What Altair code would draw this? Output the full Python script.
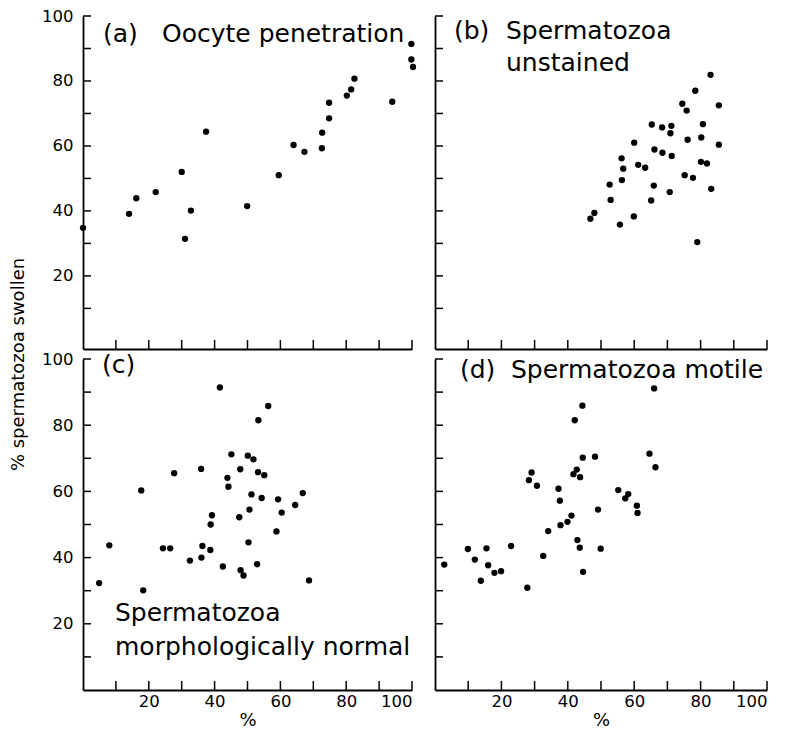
import altair as alt
import pandas as pd

# ---------------- data ----------------
a_x = [0, 14.0, 16.2, 22.1, 30.0, 31.0, 32.8, 37.4, 49.9, 59.5, 64.0, 67.3, 72.6, 72.7,
       74.8, 74.8, 80.2, 81.5, 82.5, 94.0, 99.8, 99.8, 100.3]
a_y = [34.8, 39.1, 43.9, 45.8, 52.0, 31.4, 40.1, 64.4, 41.5, 51.0, 60.3, 58.2, 59.3, 64.1,
       68.5, 73.3, 75.5, 77.4, 80.7, 73.6, 91.4, 86.6, 84.3]

b_x = [46.8, 48.0, 52.6, 52.9, 55.7, 56.3, 56.7, 56.2, 59.9, 60.0, 61.2, 63.3, 65.1, 65.9,
       66.1, 65.3, 68.4, 68.5, 70.7, 71.3, 70.9, 71.2, 74.5, 75.8, 75.2, 76.1, 77.7, 78.4,
       79.0, 80.2, 80.7, 80.1, 81.9, 83.2, 83.0, 85.5, 85.5]
b_y = [37.6, 39.4, 48.1, 43.4, 35.8, 49.5, 53.0, 56.2, 38.3, 61.0, 54.2, 53.3, 43.2, 47.8,
       58.9, 66.6, 65.7, 57.9, 45.8, 56.9, 63.9, 66.2, 73.0, 70.9, 51.0, 61.9, 50.2, 77.0,
       30.4, 62.6, 66.7, 55.1, 54.6, 46.8, 81.9, 72.5, 60.4]

c_x = [4.9, 8.0, 17.7, 18.3, 24.3, 26.5, 27.7, 32.5, 35.9, 36.0, 36.3, 38.7, 38.8, 39.2,
       41.6, 42.5, 43.9, 44.2, 45.1, 47.5, 47.8, 47.9, 48.8, 50.1, 50.3, 50.6, 51.2, 51.8,
       52.9, 53.2, 53.3, 54.3, 55.1, 56.3, 58.8, 59.3, 60.4, 64.5, 66.8, 68.7]
c_y = [32.3, 43.7, 60.3, 30.1, 42.8, 42.8, 65.5, 39.1, 66.8, 40.0, 43.5, 42.3, 50.0, 52.8,
       91.4, 37.3, 64.1, 61.4, 71.2, 52.2, 66.7, 36.2, 34.6, 70.8, 44.6, 54.5, 59.1, 69.7,
       38.0, 65.8, 81.5, 58.0, 64.9, 85.8, 47.9, 57.6, 53.6, 55.9, 59.5, 33.1]

d_x = [2.8, 9.9, 12.0, 13.8, 15.5, 16.0, 17.9, 19.9, 22.9, 27.8, 28.3, 29.1, 30.7, 32.6,
       34.1, 37.2, 37.6, 37.8, 39.9, 41.1, 42.1, 41.7, 42.7, 43.7, 42.9, 43.6, 44.4, 44.5,
       44.6, 48.2, 49.1, 49.9, 55.2, 57.3, 58.2, 60.8, 61.0, 64.6, 66.0, 66.4]
d_y = [37.9, 42.6, 39.4, 33.0, 42.8, 37.7, 35.4, 35.9, 43.5, 30.9, 63.4, 65.7, 61.7, 40.5,
       48.0, 60.8, 57.2, 49.8, 50.8, 52.7, 81.5, 65.2, 66.6, 64.3, 45.3, 43.0, 85.9, 70.2,
       35.7, 70.5, 54.5, 42.7, 60.4, 57.9, 59.2, 55.7, 53.5, 71.4, 91.1, 67.3]

tick_values = [10, 20, 30, 40, 50, 60, 70, 80, 90, 100]
label_values = [20, 40, 60, 80, 100]

FONT = "DejaVu Sans"


def panel(xs, ys, texts, x_labels, y_labels, y_min, w, h, y_title=False):
    df = pd.DataFrame({"x": xs, "y": ys})
    xscale = alt.Scale(domain=[0, 100], nice=False, zero=False)
    yscale = alt.Scale(domain=[y_min, 100], nice=False, zero=False)

    xaxis_kw = dict(values=label_values, ticks=False, tickSize=0, grid=False,
                    domain=True, domainColor="black", domainWidth=1.8,
                    labels=x_labels, labelFont=FONT, labelFontSize=16.5,
                    labelColor="black", labelPadding=3,
                    titleFont=FONT, titleFontSize=18, titleFontWeight="normal",
                    titleColor="black", titlePadding=2)
    yaxis_kw = dict(values=label_values, ticks=False, tickSize=0, grid=False,
                    domain=True, domainColor="black", domainWidth=1.8,
                    labels=y_labels, labelFont=FONT, labelFontSize=16.5,
                    labelColor="black", labelPadding=10,
                    titleFont=FONT, titleFontSize=18, titleFontWeight="normal",
                    titleColor="black")
    if y_title:
        yaxis_kw.update(titleX=-56, titleY=5, titleAngle=270,
                        titleBaseline="bottom", titleAlign="center")

    xenc = alt.X("x:Q", scale=xscale, axis=alt.Axis(**xaxis_kw),
                 title="%" if x_labels else None)
    yenc = alt.Y("y:Q", scale=yscale, axis=alt.Axis(**yaxis_kw),
                 title="% spermatozoa swollen" if y_title else None)

    pts = alt.Chart(df).mark_circle(size=40, color="black", opacity=1).encode(x=xenc, y=yenc)

    # inward tick marks (x ticks: 9 px tall, y ticks: 8 px long)
    ty_len = 9 * (100 - y_min) / h
    tx_len = 8 * 100 / w
    tdf = pd.DataFrame({"x": tick_values, "y0": [y_min] * len(tick_values),
                        "y1": [y_min + ty_len] * len(tick_values)})
    xticks = alt.Chart(tdf).mark_rule(color="black", strokeWidth=1.5).encode(
        x=alt.X("x:Q", scale=xscale), y=alt.Y("y0:Q", scale=yscale), y2="y1:Q")
    ydf = pd.DataFrame({"y": tick_values, "x0": [0] * len(tick_values),
                        "x1": [tx_len] * len(tick_values)})
    yticks = alt.Chart(ydf).mark_rule(color="black", strokeWidth=1.5).encode(
        y=alt.Y("y:Q", scale=yscale), x=alt.X("x0:Q", scale=xscale), x2="x1:Q")

    layers = [xticks, yticks, pts]
    for txt, tx, ty in texts:
        layers.append(
            alt.Chart(pd.DataFrame({"t": [txt]})).mark_text(
                align="left", baseline="alphabetic", font=FONT, fontSize=25,
                color="black").encode(text="t:N", x=alt.value(tx), y=alt.value(ty))
        )
    return alt.layer(*layers).properties(width=w, height=h)


pa = panel(a_x, a_y, [("(a)", 20, 26), ("Oocyte penetration", 79, 26)],
           False, True, -2.5, 329, 333)
pb = panel(b_x, b_y, [("(b)", 19, 23), ("Spermatozoa", 71, 23), ("unstained", 71, 55)],
           False, False, -2.5, 332, 333)
pc = panel(c_x, c_y, [("(c)", 19, 14), ("Spermatozoa", 32, 262),
                      ("morphologically normal", 32, 296)],
           True, True, 0, 329, 331, y_title=True)
pd_ = panel(d_x, d_y, [("(d)", 25, 19), ("Spermatozoa motile", 76, 19)],
            True, False, 0, 332, 331)

chart = alt.concat(pa, pb, pc, pd_, columns=2,
                   spacing={"row": 10, "column": 23}, bounds="flush").properties(
    padding=0, background="white"
).configure_view(strokeWidth=0)

chart.save("out.html", embed_options={"renderer": "svg", "actions": False})
